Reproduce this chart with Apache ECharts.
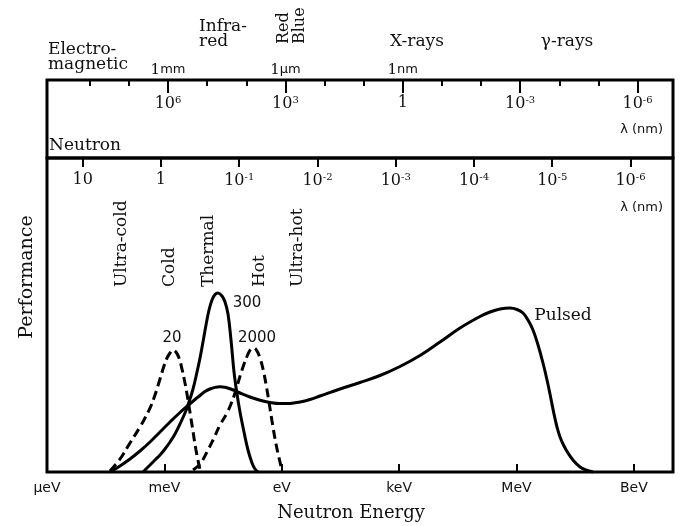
<!DOCTYPE html>
<html>
<head>
<meta charset="utf-8">
<script src="https://cdn.jsdelivr.net/npm/echarts@6/dist/echarts.min.js"></script>
<style>
html,body{margin:0;padding:0;background:#fff;}
#chart{width:680px;height:526px;}
</style>
</head>
<body>
<div id="chart"></div>
<script>
// ---- Data (x = log10 of neutron energy in eV, y = relative performance) ----
const energyTicks = [-6, -3, 0, 3, 6, 9];
const energyTickLabels = ['\u03bceV', 'meV', 'eV', 'keV', 'MeV', 'BeV'];

const neutronLambdaTicks = [1, 0, -1, -2, -3, -4, -5, -6];      // log10 λ (nm)
const photonLambdaMajor = [6, 3, 0, -3, -6];                      // log10 λ (nm)
const photonLambdaMinor = [8, 7, 5, 4, 2, 1, -1, -2, -4, -5];
const photonNamedTicks = [6, 3, 0];
const photonNamedLabels = ['1mm', '1\u03bcm', '1nm'];

const cold20 = [[-4.390,1],[-4.134,13],[-3.879,29],[-3.623,45],[-3.495,54],[-3.367,64],[-3.240,77],[-3.112,93],[-3.010,106],[-2.933,114],[-2.856,119],[-2.780,122],[-2.703,120],[-2.626,114],[-2.550,103],[-2.473,89],[-2.396,72],[-2.294,47],[-2.192,22],[-2.089,2]];
const thermal300 = [[-3.546,0],[-3.367,7],[-3.240,12],[-3.112,17],[-2.984,23],[-2.856,30],[-2.728,38],[-2.601,48],[-2.473,59],[-2.396,67],[-2.268,83],[-2.166,100],[-2.089,114],[-2.013,130],[-1.936,147],[-1.859,162],[-1.783,172],[-1.706,177.5],[-1.629,179],[-1.527,176],[-1.450,170],[-1.374,158],[-1.297,132],[-1.220,100],[-1.144,78],[-1.067,60],[-0.965,40],[-0.863,22],[-0.760,9],[-0.684,3],[-0.607,0]];
const hot2000 = [[-2.268,2],[-2.089,8],[-1.911,20],[-1.757,32],[-1.578,47],[-1.399,59],[-1.297,68],[-1.195,79],[-1.016,102],[-0.863,118],[-0.786,123],[-0.709,124],[-0.633,121],[-0.556,114],[-0.479,103],[-0.403,88],[-0.326,70],[-0.249,51],[-0.147,28],[-0.045,10],[0.006,2]];
const pulsed = [[-4.390,0],[-4.134,6],[-3.879,13],[-3.623,21],[-3.367,30],[-3.112,40],[-2.856,50],[-2.601,59.5],[-2.396,66.5],[-2.217,72.5],[-2.089,76.5],[-1.962,80.5],[-1.834,83],[-1.706,84.6],[-1.578,85.2],[-1.450,84.8],[-1.272,82.5],[-1.067,79],[-0.812,75],[-0.556,71.8],[-0.300,69.6],[-0.045,68.5],[0.211,68.6],[0.466,70],[0.722,72.5],[0.978,76],[1.489,83],[2.000,89.5],[2.511,96.5],[3.022,105.5],[3.534,116.5],[4.045,130],[4.556,144],[5.067,155.5],[5.323,160],[5.578,163],[5.834,164],[6.013,162.5],[6.166,159],[6.294,152],[6.422,142],[6.550,127],[6.677,109],[6.780,92],[6.856,78],[6.958,58],[7.035,45],[7.112,35],[7.214,26],[7.316,19],[7.444,12],[7.623,5],[7.776,2],[7.955,0]];

// ---- Scales ----
const eMin = -6, eMax = 10;
const neutronLam = le => Math.log10(0.0286 / Math.sqrt(Math.pow(10, le)));
const photonLam = le => Math.log10(1239.84 / Math.pow(10, le));

const SERIF = "'DejaVu Serif', serif";
const SANS = "'DejaVu Sans', sans-serif";

function supLabel(v) {
  if (v === 0) return '{b|1}';
  if (v === 1) return '{b|10}';
  return '{b|10}{s|' + (v < 0 ? '-' : '') + Math.abs(v) + '}';
}
const supRich = {
  b: {fontFamily: SERIF, fontSize: 16, color: '#111'},
  s: {fontFamily: SERIF, fontSize: 10, color: '#111', verticalAlign: 'top', padding: [0, 0, 8, 0]}
};

const chart = echarts.init(document.getElementById('chart'));
const lineBase = {type: 'line', showSymbol: false, smooth: 0.4, xAxisIndex: 0, yAxisIndex: 0, clip: false};
const noSplit = {show: false};
const noLine = {show: false, onZero: false};

chart.setOption({
  animation: false,
  grid: [
    {left: 47, right: 7, top: 158, bottom: 54, show: true, borderColor: '#000', borderWidth: 3, backgroundColor: 'transparent'},
    {left: 47, right: 7, top: 80, height: 78, show: true, borderColor: '#000', borderWidth: 3, backgroundColor: 'transparent'},
    {left: 47, right: 7, top: 80, height: 78, show: false}
  ],
  xAxis: [
    { // energy axis (bottom)
      gridIndex: 0, type: 'value', position: 'bottom', min: eMin, max: eMax,
      axisLine: noLine, splitLine: noSplit,
      axisTick: {show: true, inside: true, length: 8, lineStyle: {color: '#000', width: 2}, customValues: energyTicks.slice(1)},
      axisLabel: {customValues: energyTicks, margin: 9, fontFamily: SANS, fontSize: 14, color: '#111',
        formatter: v => energyTickLabels[energyTicks.indexOf(Math.round(v))]}
    },
    { // neutron wavelength axis
      gridIndex: 0, type: 'value', position: 'top', inverse: true,
      min: neutronLam(eMax), max: neutronLam(eMin),
      axisLine: noLine, splitLine: noSplit,
      axisTick: {show: true, inside: true, length: 9, lineStyle: {color: '#000', width: 2}, customValues: neutronLambdaTicks},
      axisLabel: {inside: true, customValues: neutronLambdaTicks, margin: 14, formatter: v => supLabel(Math.round(v)), rich: supRich}
    },
    { // photon wavelength major ticks + labels
      gridIndex: 1, type: 'value', position: 'top', inverse: true,
      min: photonLam(eMax), max: photonLam(eMin),
      axisLine: noLine, splitLine: noSplit,
      axisTick: {show: true, inside: true, length: 13, lineStyle: {color: '#000', width: 2}, customValues: photonLambdaMajor},
      axisLabel: {inside: true, customValues: photonLambdaMajor, margin: 15, formatter: v => supLabel(Math.round(v)), rich: supRich}
    },
    { // photon wavelength minor ticks (overlay grid)
      gridIndex: 2, type: 'value', position: 'top', inverse: true,
      min: photonLam(eMax), max: photonLam(eMin),
      axisLine: noLine, splitLine: noSplit,
      axisTick: {show: true, inside: true, length: 6, lineStyle: {color: '#000', width: 2}, customValues: photonLambdaMinor},
      axisLabel: {show: false}
    }
  ],
  yAxis: [
    {gridIndex: 0, type: 'value', min: 0, max: 314, show: false, splitLine: noSplit, axisLine: noLine},
    {gridIndex: 1, type: 'value', min: 0, max: 1, show: false, splitLine: noSplit, axisLine: noLine},
    {gridIndex: 2, type: 'value', min: 0, max: 1, show: false, splitLine: noSplit, axisLine: noLine}
  ],
  series: [
    Object.assign({}, lineBase, {name: '20', data: cold20, lineStyle: {color: '#000', width: 3, type: [9, 5]}}),
    Object.assign({}, lineBase, {name: '300', data: thermal300, lineStyle: {color: '#000', width: 3}}),
    Object.assign({}, lineBase, {name: '2000', data: hot2000, lineStyle: {color: '#000', width: 3, type: [9, 5]}}),
    Object.assign({}, lineBase, {name: 'Pulsed', data: pulsed, lineStyle: {color: '#000', width: 3}})
  ],
  graphic: [
    {type: 'text', x: 48, y: 57, style: {text: 'Electro-\nmagnetic', fontFamily: SERIF, fontSize: 17, fill: '#111', lineHeight: 15, textVerticalAlign: 'middle'}},
    {type: 'text', x: 199, y: 34, style: {text: 'Infra-\nred', fontFamily: SERIF, fontSize: 17, fill: '#111', lineHeight: 15, textVerticalAlign: 'middle'}},
    {type: 'text', x: 284, y: 44, rotation: Math.PI / 2, style: {text: 'Red', fontFamily: SERIF, fontSize: 16, fill: '#111', textAlign: 'left', textVerticalAlign: 'middle'}},
    {type: 'text', x: 300, y: 44, rotation: Math.PI / 2, style: {text: 'Blue', fontFamily: SERIF, fontSize: 16, fill: '#111', textAlign: 'left', textVerticalAlign: 'middle'}},
    {type: 'text', x: 417, y: 42, style: {text: 'X-rays', fontFamily: SERIF, fontSize: 17, fill: '#111', textAlign: 'center', textVerticalAlign: 'middle'}},
    {type: 'text', x: 567, y: 42, style: {text: '\u03b3-rays', fontFamily: SERIF, fontSize: 17, fill: '#111', textAlign: 'center', textVerticalAlign: 'middle'}},
    {type: 'text', x: 663, y: 130, style: {text: '\u03bb (nm)', fontFamily: SANS, fontSize: 13, fill: '#111', textAlign: 'right', textVerticalAlign: 'middle'}},
    {type: 'text', x: 49, y: 146, style: {text: 'Neutron', fontFamily: SERIF, fontSize: 17, fill: '#111', textVerticalAlign: 'middle'}},
    {type: 'text', x: 663, y: 208, style: {text: '\u03bb (nm)', fontFamily: SANS, fontSize: 13, fill: '#111', textAlign: 'right', textVerticalAlign: 'middle'}},
    {type: 'text', x: 122, y: 287, rotation: Math.PI / 2, style: {text: 'Ultra-cold', fontFamily: SERIF, fontSize: 17, fill: '#111', textAlign: 'left', textVerticalAlign: 'middle'}},
    {type: 'text', x: 170, y: 287, rotation: Math.PI / 2, style: {text: 'Cold', fontFamily: SERIF, fontSize: 17, fill: '#111', textAlign: 'left', textVerticalAlign: 'middle'}},
    {type: 'text', x: 209, y: 287, rotation: Math.PI / 2, style: {text: 'Thermal', fontFamily: SERIF, fontSize: 17, fill: '#111', textAlign: 'left', textVerticalAlign: 'middle'}},
    {type: 'text', x: 260, y: 287, rotation: Math.PI / 2, style: {text: 'Hot', fontFamily: SERIF, fontSize: 17, fill: '#111', textAlign: 'left', textVerticalAlign: 'middle'}},
    {type: 'text', x: 298, y: 287, rotation: Math.PI / 2, style: {text: 'Ultra-hot', fontFamily: SERIF, fontSize: 17, fill: '#111', textAlign: 'left', textVerticalAlign: 'middle'}},
    {type: 'text', x: 27, y: 277, rotation: Math.PI / 2, style: {text: 'Performance', fontFamily: SERIF, fontSize: 19, fill: '#111', textAlign: 'center', textVerticalAlign: 'middle'}},
    {type: 'text', x: 351, y: 513, style: {text: 'Neutron Energy', fontFamily: SERIF, fontSize: 18, fill: '#111', textAlign: 'center', textVerticalAlign: 'middle'}},
    {type: 'text', x: 172, y: 338, style: {text: '20', fontFamily: SANS, fontSize: 15, fill: '#111', textAlign: 'center', textVerticalAlign: 'middle'}},
    {type: 'text', x: 247, y: 303, style: {text: '300', fontFamily: SANS, fontSize: 15, fill: '#111', textAlign: 'center', textVerticalAlign: 'middle'}},
    {type: 'text', x: 257, y: 338, style: {text: '2000', fontFamily: SANS, fontSize: 15, fill: '#111', textAlign: 'center', textVerticalAlign: 'middle'}},
    {type: 'text', x: 563, y: 316, style: {text: 'Pulsed', fontFamily: SERIF, fontSize: 17, fill: '#111', textAlign: 'center', textVerticalAlign: 'middle'}}
  ]
});

// Named wavelengths (1mm, 1µm, 1nm) placed through the photon wavelength scale
const namedGraphics = photonNamedTicks.map((v, i) => {
  const px = chart.convertToPixel({xAxisIndex: 2}, v);
  return {type: 'text', x: px, y: 70, style: {
    text: '{n|1}{u|' + photonNamedLabels[i].slice(1) + '}',
    rich: {n: {fontFamily: SERIF, fontSize: 15, fill: '#111'}, u: {fontFamily: SANS, fontSize: 13, fill: '#111'}},
    textAlign: 'center', textVerticalAlign: 'middle'}};
});
const opt = chart.getOption();
chart.setOption({graphic: opt.graphic[0].elements.concat(namedGraphics)}, {replaceMerge: ['graphic']});
</script>
</body>
</html>
